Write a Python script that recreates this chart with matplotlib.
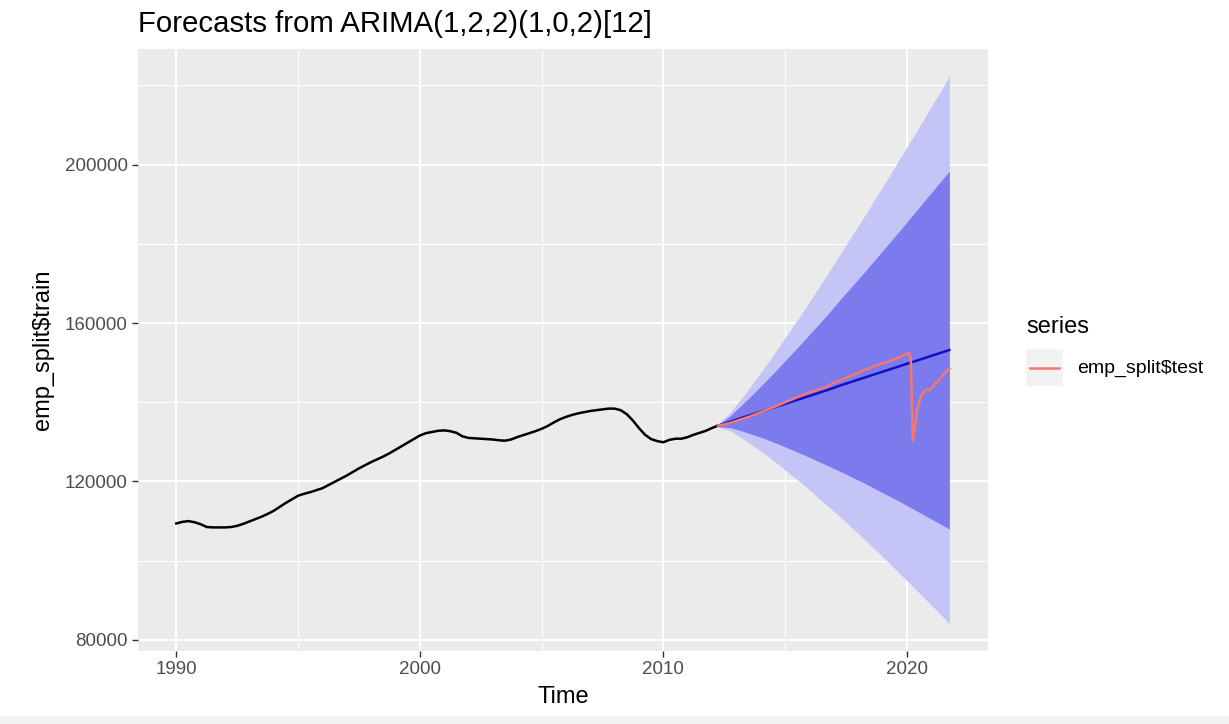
import numpy as np
import matplotlib
matplotlib.use("Agg")
from matplotlib import pyplot as plt
from matplotlib.patches import Rectangle
from matplotlib.lines import Line2D

plt.rcParams['font.family'] = ['Liberation Sans', 'DejaVu Sans']

W, H = 1229, 724

# training series, quarterly (thousands of jobs)
train_t = np.arange(1990.0, 2012.26, 0.25)
train_y = [
    109400, 109800, 110000, 109700, 109200, 108500, 108400, 108400,
    108400, 108500, 108800, 109300, 109900, 110500, 111100, 111800,
    112600, 113600, 114600, 115500, 116400, 116900, 117300, 117800,
    118300, 119100, 119900, 120700, 121500, 122400, 123300, 124100,
    124900, 125600, 126300, 127100, 128000, 128900, 129800, 130700,
    131600, 132200, 132500, 132800, 132900, 132700, 132300, 131400,
    131000, 130900, 130800, 130700, 130600, 130400, 130300, 130600,
    131200, 131700, 132200, 132700, 133300, 134000, 134900, 135700,
    136300, 136800, 137200, 137500, 137800, 138000, 138200, 138400,
    138400, 138000, 137000, 135400, 133500, 131800, 130700, 130200,
    129900, 130500, 130800, 130800, 131200, 131800, 132300, 132800,
    133500, 134100,
]

# forecast: point forecast and half widths of the 80% / 95% intervals
fc_t = np.arange(2012.25, 2021.76, 0.5)
fc_mean = [134100, 135100, 136100, 137100, 138100, 139100, 140100, 141100,
           142100, 143100, 144200, 145200, 146200, 147200, 148200, 149200,
           150200, 151200, 152200, 153200]
fc_w80 = [260, 1500, 3400, 5400, 7500, 9700, 12000, 14300, 16700, 19100,
          21600, 24100, 26600, 29200, 31800, 34400, 37100, 39800, 42500, 45200]
fc_w95 = [400, 2300, 5200, 8300, 11500, 14900, 18400, 21900, 25600, 29300,
          33000, 36900, 40700, 44700, 48600, 52700, 56700, 60800, 64900, 69100]

# test series: quarterly to 2019, monthly from 2020
test_t = [2012.25, 2012.5, 2012.75, 2013.0, 2013.25, 2013.5, 2013.75, 2014.0,
          2014.25, 2014.5, 2014.75, 2015.0, 2015.25, 2015.5, 2015.75, 2016.0,
          2016.25, 2016.5, 2016.75, 2017.0, 2017.25, 2017.5, 2017.75, 2018.0,
          2018.25, 2018.5, 2018.75, 2019.0, 2019.25, 2019.5, 2019.75, 2020.0,
          2020.083, 2020.167, 2020.25, 2020.333, 2020.417, 2020.5, 2020.583,
          2020.667, 2020.75, 2020.833, 2020.917, 2021.0, 2021.083, 2021.167,
          2021.25, 2021.333, 2021.417, 2021.5, 2021.583, 2021.667, 2021.75]
test_y = [134100, 134400, 134800, 135300, 135800, 136300, 136900, 137500,
          138100, 138700, 139300, 140000, 140600, 141300, 141900, 142500,
          143000, 143500, 144000, 144900, 145500, 146100, 146800, 147500,
          148100, 148700, 149300, 149800, 150300, 150900, 151500, 152200,
          152500, 151100, 130300, 133100, 137800, 139700, 141400,
          142400, 143000, 143200, 143000, 143500, 144000, 144800,
          145100, 145600, 146200, 147000, 147500, 148000, 148500]

mean = np.array(fc_mean, dtype=float)
w80 = np.array(fc_w80, dtype=float)
w95 = np.array(fc_w95, dtype=float)

fig = plt.figure(figsize=(W / 100, H / 100), dpi=100)
fig.patch.set_facecolor('white')
fig.patches.append(Rectangle((0, 0), 1, 8 / H, transform=fig.transFigure,
                             facecolor='#F2F2F2', edgecolor='none', zorder=-5))

left, right, top, bottom = 137.7, 988, 49, 651
ax = fig.add_axes([left / W, 1 - bottom / H, (right - left) / W, (bottom - top) / H])
ax.set_facecolor('#EBEBEB')

ax.plot(train_t, train_y, color='black', lw=1.8, zorder=3)
ax.fill_between(fc_t, mean - w95, mean + w95, color='#C4C4F6', lw=0, zorder=2)
ax.fill_between(fc_t, mean - w80, mean + w80, color='#7B7BEE', lw=0, zorder=2.1)
ax.plot(fc_t, mean, color='#1010C8', lw=1.8, zorder=3)
ax.plot(test_t, test_y, color='#F8766D', lw=1.8, zorder=4)

# ggplot-style 5% expansion around the data
xs = np.concatenate([train_t, fc_t, test_t])
ys = np.concatenate([train_y, mean - w95, mean + w95, test_y])
xpad = 0.05 * (xs.max() - xs.min())
ypad = 0.05 * (ys.max() - ys.min())
ax.set_xlim(xs.min() - xpad, xs.max() + xpad)
ax.set_ylim(ys.min() - ypad, ys.max() + ypad)

ax.set_xticks([1990, 2000, 2010, 2020])
ax.set_xticks([1995, 2005, 2015], minor=True)
ax.set_yticks([80000, 120000, 160000, 200000])
ax.set_yticks([100000, 140000, 180000, 220000], minor=True)
ax.grid(which='major', color='white', lw=1.5, zorder=0)
ax.grid(which='minor', color='white', lw=0.75, zorder=0)
ax.set_axisbelow(True)
for s in ax.spines.values():
    s.set_visible(False)
ax.tick_params(which='major', length=4, width=1.0, color='#333333',
               labelsize=13.5, labelcolor='#4D4D4D', pad=3)
ax.tick_params(which='minor', length=0)

ax.set_xlabel('Time', fontsize=17, labelpad=6)
ax.set_ylabel('emp_split$train', fontsize=17, labelpad=8)
fig.text(138 / W, 1 - 24 / H, 'Forecasts from ARIMA(1,2,2)(1,0,2)[12]',
         fontsize=21.2, va='center', ha='left')

# legend
def fx(px):
    return px / W

def fy(py):
    return 1 - py / H

fig.text(fx(1026), fy(327), 'series', fontsize=17, va='center', ha='left')
fig.patches.append(Rectangle((fx(1026), fy(386)), 37 / W, 37 / H,
                             transform=fig.transFigure, facecolor='#F2F2F2',
                             edgecolor='none'))
fig.lines.append(Line2D([fx(1030), fx(1059)], [fy(367.5), fy(367.5)],
                        transform=fig.transFigure, color='#F8766D', lw=1.8))
fig.text(fx(1077), fy(368), 'emp_split$test', fontsize=14, va='center', ha='left')

fig.savefig('out.png', dpi=100)
